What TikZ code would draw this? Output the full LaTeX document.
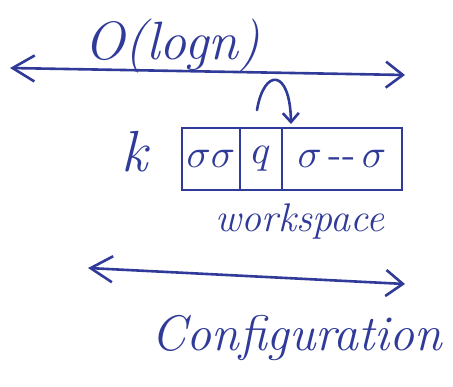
\RequirePackage{fix-cm}
\documentclass[tikz,border=0pt]{standalone}
\usepackage{amssymb}
\usepackage{graphicx}
\usepackage{tikz}
\usetikzlibrary{positioning,calc,arrows.meta}
\definecolor{ink}{RGB}{48,58,152}
\newcommand{\bigsym}[1]{\scalebox{4}{#1}}
\tikzset{x=1pt,y=1pt,
ink/.style={draw=ink,text=ink,line width=2.6pt,line cap=round,line join=round},
hand/.style={ink,-{Straight Barb[length=9pt,width=16pt]}},
both/.style={ink,{Straight Barb[length=22pt,width=26pt]}-{Straight Barb[length=17pt,width=26pt]}},
cell/.style={rectangle,draw=ink,line width=2.6pt,minimum height=62pt,inner sep=0pt,outer sep=0pt,text=ink},
lbl/.style={text=ink,inner sep=0pt},
}

\begin{document}
\begin{tikzpicture}
	\useasboundingbox (0,0) rectangle (453,386);

	\node[cell,minimum width=58pt] at (211,227) (c1) {\bigsym{$\sigma\sigma$}};
	\node[cell,minimum width=42pt,right=0pt of c1] (c2) {\bigsym{$q$}};
	\node[cell,minimum width=120pt,right=0pt of c2] (c3) {\bigsym{$\sigma\,$-{}-$\,\sigma$}};
	\node[lbl,font=\itshape\fontsize{58}{60}\selectfont] at (135,234) (k) {k};

	\coordinate (tl) at (10,318);
	\coordinate (tr) at (405,311);
	\coordinate (bl) at (88,118);
	\coordinate (br) at (405,102);
	\coordinate (hs) at (257,276);
	\coordinate (ht) at ($(c3.north west)+(9,4)$);

	\node[lbl,font=\itshape\fontsize{54}{58}\selectfont] at (172,340) (olog) {O(logn)};
	\node[lbl,font=\itshape\fontsize{40}{44}\selectfont] at (300,164) (work) {workspace};
	\node[lbl,font=\itshape\fontsize{50}{54}\selectfont] at (297,48) (conf) {Configuration};

	\draw[both] (tl) -- (tr);
	\draw[both] (bl) -- (br);
	\draw[hand] (hs) .. controls (264,318) and (290,318) .. (ht);
\end{tikzpicture}
\end{document}
